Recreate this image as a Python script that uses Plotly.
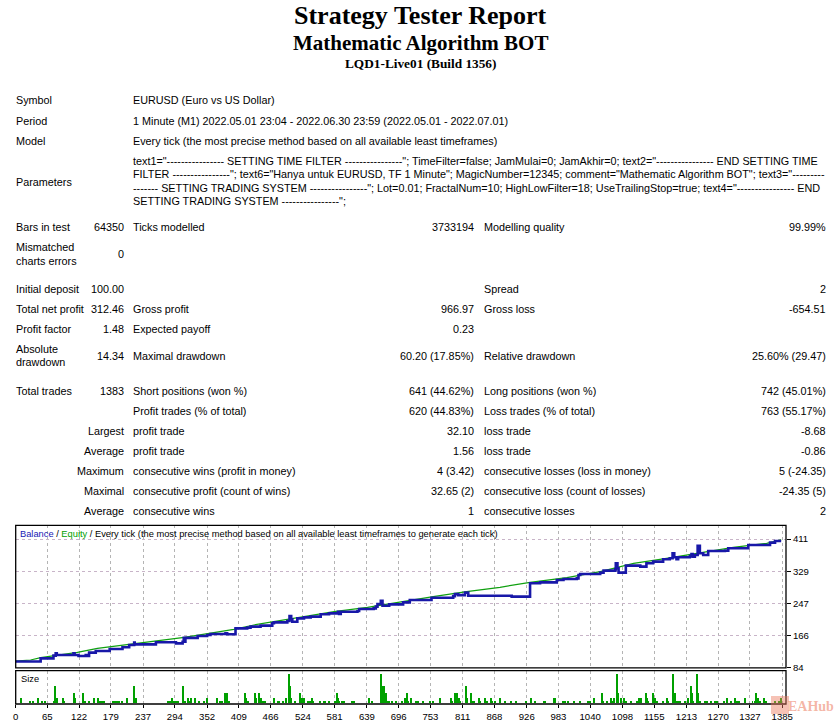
import plotly.graph_objects as go

# ---------------- DATA ----------------
TITLE = "Strategy Tester Report"
SUBTITLE = "Mathematic Algorithm BOT"
SERVER = "LQD1-Live01 (Build 1356)"

INFO_LABELS = ["Symbol", "Period", "Model", "Parameters"]
INFO_VALUES = [
    "EURUSD (Euro vs US Dollar)",
    "1 Minute (M1) 2022.05.01 23:04 - 2022.06.30 23:59 (2022.05.01 - 2022.07.01)",
    "Every tick (the most precise method based on all available least timeframes)",
]
PARAM_LINES = [
    'text1="---------------- SETTING TIME FILTER ----------------"; TimeFilter=false; JamMulai=0; JamAkhir=0; text2="---------------- END SETTING TIME',
    'FILTER ----------------"; text6="Hanya untuk EURUSD, TF 1 Minute"; MagicNumber=12345; comment="Mathematic Algorithm BOT"; text3="---------',
    '------- SETTING TRADING SYSTEM ----------------"; Lot=0.01; FractalNum=10; HighLowFilter=18; UseTrailingStop=true; text4="---------------- END',
    'SETTING TRADING SYSTEM ----------------";',
]

# stats table: label1, value1, label2, value2, label3, value3
STATS = [
    ["Bars in test", "64350", "Ticks modelled", "3733194", "Modelling quality", "99.99%"],
    ["Mismatched<br>charts errors", "0", "", "", "", ""],
    ["Initial deposit", "100.00", "", "", "Spread", "2"],
    ["Total net profit", "312.46", "Gross profit", "966.97", "Gross loss", "-654.51"],
    ["Profit factor", "1.48", "Expected payoff", "0.23", "", ""],
    ["Absolute<br>drawdown", "14.34", "Maximal drawdown", "60.20 (17.85%)", "Relative drawdown", "25.60% (29.47)"],
    ["Total trades", "1383", "Short positions (won %)", "641 (44.62%)", "Long positions (won %)", "742 (45.01%)"],
    ["", "", "Profit trades (% of total)", "620 (44.83%)", "Loss trades (% of total)", "763 (55.17%)"],
    ["", "Largest", "profit trade", "32.10", "loss trade", "-8.68"],
    ["", "Average", "profit trade", "1.56", "loss trade", "-0.86"],
    ["", "Maximum", "consecutive wins (profit in money)", "4 (3.42)", "consecutive losses (loss in money)", "5 (-24.35)"],
    ["", "Maximal", "consecutive profit (count of wins)", "32.65 (2)", "consecutive loss (count of losses)", "-24.35 (5)"],
    ["", "Average", "consecutive wins", "1", "consecutive losses", "2"],
]

# balance curve (trade number, balance)
BAL_TRADE = [0, 52, 53, 75, 76, 79, 80, 82, 110, 112, 114, 119, 121, 133, 134, 138, 140, 152, 176, 177,
             200, 212, 220, 221, 222, 257, 260, 293, 296, 308, 310, 312, 313, 335, 352, 358, 385, 388, 401, 403,
             424, 430, 448, 469, 472, 496, 500, 503, 505, 508, 514, 526, 538, 556, 571, 587, 589, 592, 622, 625,
             651, 655, 658, 664, 667, 673, 679, 694, 704, 716, 752, 755, 794, 797, 803, 815, 821, 896, 899, 929,
             932, 950, 980, 992, 1016, 1019, 1022, 1058, 1064, 1085, 1086, 1089, 1091, 1103, 1104, 1127, 1130, 1141, 1153, 1171,
             1183, 1188, 1191, 1195, 1198, 1219, 1222, 1224, 1228, 1233, 1237, 1243, 1252, 1282, 1288, 1321, 1324, 1354, 1363, 1372, 1383]
BAL_VALUE = [100, 100, 108, 108, 115, 115, 121, 116.5, 116.5, 121, 116.5, 116.5, 114, 114, 116.5, 114, 122.5, 126.7, 126.7, 131.8,
             136, 142, 142, 148, 143.6, 143.6, 148.7, 148.7, 146, 150, 160, 150, 160, 164.8, 167.3, 170, 171.5, 169, 169, 184,
             186, 188.5, 191, 197, 199.4, 202.8, 215.5, 207, 201, 201, 209.6, 212, 214, 219.8, 222.3, 226.5, 221, 226.5, 228.2, 233.3,
             235, 239.2, 246, 254.4, 241.7, 241.7, 245, 245, 250, 256, 256, 262, 266, 271, 268.5, 274.8, 267, 267, 264.7, 264.7,
             298.5, 301, 307, 309.5, 311, 319.7, 322, 325.6, 330.7, 334, 349.3, 336.6, 325.6, 325.6, 343.4, 343.4, 340.8, 349.3, 353.5, 359.5,
             362, 374.7, 364.5, 359.5, 364.5, 367.9, 373, 366.2, 370.5, 394, 374.7, 370.5, 380.6, 381.4, 387.4, 387.4, 395.8, 395.8, 401.7, 406, 406]

# equity curve (trade number, equity)
EQ_TRADE = [0, 35, 53, 77, 119, 155, 203, 257, 311, 364, 400, 436, 472, 526, 580, 640, 664, 703, 758, 818,
            878, 932, 998, 1058, 1088, 1118, 1177, 1237, 1297, 1357, 1383]
EQ_VALUE = [100, 103.8, 109.8, 114.8, 123.3, 133.5, 141.9, 150.4, 161.4, 173.2, 181.7, 192.7, 201.1, 213.8, 226.5, 237.5, 243.4, 251.9, 264.7, 277.4,
            288.4, 301.1, 312.9, 328.2, 339.2, 349.3, 362, 376.4, 389.9, 400, 409]

# size bars (trade number, size)
SIZE_TRADE = [17, 33, 38, 48, 55, 61, 76, 79, 81, 92, 95, 112, 114, 128, 130, 133, 140, 148, 155, 157, 161, 164, 167, 183, 186, 190, 194, 199, 207, 221, 223,
              281, 284, 288, 290, 292, 296, 299, 308, 309, 311, 317, 319, 322, 329, 336, 345, 351, 370, 374, 378, 383, 388, 390, 419, 421, 424, 437, 439, 444, 446, 449, 451, 455, 471,
              479, 481, 487, 494, 499, 501, 503, 509, 518, 519, 521, 525, 532, 536, 539, 541, 554, 561, 563, 570, 582, 584, 586, 588, 593, 597, 611, 616, 642, 647,
              663, 665, 667, 669, 670, 672, 674, 678, 683, 690, 701, 706, 710, 712, 717, 726, 730, 739, 751, 758, 769, 789, 792, 796, 798, 801, 803, 805, 816, 818,
              825, 827, 830, 839, 841, 850, 854, 861, 864, 868, 877, 886, 897, 907, 924, 934, 940,
              956, 959, 974, 976, 977, 990, 994, 999, 1010, 1022, 1035, 1040, 1046, 1047, 1060, 1062, 1069, 1076, 1078, 1083, 1087, 1089, 1094, 1100, 1103, 1112, 1123, 1127, 1130,
              1139, 1141, 1144, 1153, 1155, 1159, 1171, 1177, 1179, 1188, 1189, 1191, 1193, 1197, 1200, 1209, 1215, 1220, 1222, 1224, 1232, 1234, 1236, 1245, 1249, 1256, 1263, 1267,
              1279, 1286, 1292, 1299, 1303, 1306, 1317, 1331, 1335, 1338, 1340, 1344, 1351, 1355, 1371, 1378, 1383]
SIZE_VALUE = [2, 1, 1, 2, 1, 1, 1, 7, 2, 2, 1, 4, 2, 4, 1, 1, 1, 2, 2, 1, 1, 1, 1, 1, 1, 1, 1, 1, 2, 7, 2,
              1, 1, 2, 1, 1, 1, 1, 7, 4, 1, 2, 1, 2, 2, 1, 1, 2, 2, 1, 1, 4, 4, 1, 4, 2, 1, 4, 2, 4, 2, 2, 1, 1, 2,
              1, 1, 1, 2, 12, 7, 2, 1, 1, 4, 2, 2, 1, 1, 2, 1, 1, 1, 1, 1, 1, 4, 2, 1, 1, 1, 1, 1, 2, 1,
              12, 7, 2, 1, 7, 4, 1, 1, 1, 1, 1, 2, 4, 1, 2, 1, 1, 1, 1, 1, 2, 2, 1, 4, 1, 4, 2, 1, 7, 2,
              4, 1, 1, 2, 1, 2, 1, 2, 1, 1, 2, 1, 1, 1, 1, 2, 1,
              1, 1, 2, 2, 1, 1, 1, 1, 1, 1, 1, 1, 2, 1, 4, 1, 1, 2, 1, 2, 12, 4, 2, 2, 1, 1, 1, 2, 2,
              4, 2, 1, 4, 2, 1, 1, 2, 1, 12, 7, 4, 1, 1, 1, 1, 2, 7, 4, 1, 12, 4, 1, 1, 1, 1, 1, 1,
              1, 2, 1, 2, 1, 1, 2, 1, 1, 4, 2, 1, 2, 1, 1, 1, 2]

X_TICK_LABELS = ["0", "65", "122", "179", "237", "294", "352", "409", "466", "524", "581", "639", "696", "753",
                 "811", "868", "926", "983", "1040", "1098", "1155", "1213", "1270", "1327", "1385"]
Y_TICKS = [84, 166, 247, 329, 411]
X_FIRST = 8.2   # left edge of trade axis
X_LAST = 1391.7

# ---------------- LAYOUT HELPERS ----------------
W, H = 839, 721
SANS = "Tahoma, 'Liberation Sans', Arial, sans-serif"
SERIF = "'Times New Roman', 'Liberation Serif', serif"


def fx(x):
    return x / W


def fy(y):
    return 1 - y / H


annotations = []


def txt(x, y, s, anchor="left", size=10.8, color="#000000", family=SANS):
    annotations.append(dict(
        x=fx(x), y=fy(y), xref="paper", yref="paper", text=s, showarrow=False,
        xanchor=anchor, yanchor="middle", align=anchor if anchor != "center" else "center",
        borderpad=0, font=dict(family=family, size=size, color=color)))


# titles
txt(420, 16, "<b>" + TITLE + "</b>", "center", 26, family=SERIF)
txt(420, 43.5, "<b>" + SUBTITLE + "</b>", "center", 21, family=SERIF)
txt(420, 64, "<b>" + SERVER + "</b>", "center", 13.3, family=SERIF)

# info rows
info_y = [100.5, 120.5, 140.5]
for lab, val, y in zip(INFO_LABELS[:3], INFO_VALUES, info_y):
    txt(15, y, lab)
    txt(131.5, y, val)
txt(15, 181.5, INFO_LABELS[3])
for line, y in zip(PARAM_LINES, [161, 174.3, 187.6, 200.9]):
    txt(131.5, y, line)

# stats grid
row_y = [227.3, 254, 289, 309.3, 329.3, 355.6, 391, 411, 431.3, 451.3, 471.3, 491.3, 511.3]
col_x = [(15, "left"), (124.5, "right"), (131.5, "left"), (475.5, "right"), (482.5, "left"), (827, "right")]
for row, y in zip(STATS, row_y):
    for cell, (x, anc) in zip(row, col_x):
        if not cell:
            continue
        parts = cell.split("<br>")
        if len(parts) == 1:
            txt(x, y, cell, anc)
        else:
            txt(x, y - 6.6, parts[0], anc)
            txt(x, y + 6.6, parts[1], anc)

# chart legend text
BAL_COLOR = "#1818A8"
EQ_COLOR = "#10A010"
txt(19, 533.5, "<span style='color:#1818B4'>Balance</span> / <span style='color:#00A000'>Equity</span> / "
    "Every tick (the most precise method based on all available least timeframes to generate each tick)",
    "left", 9.3)
txt(19.5, 679, "Size", "left", 9.3)

# watermark
annotations.append(dict(x=fx(835), y=fy(706), xref="paper", yref="paper", text="<b>EAHub</b>", showarrow=False,
                        xanchor="right", yanchor="middle", borderpad=0,
                        font=dict(family=SERIF, size=14, color="rgba(236,120,90,0.55)")))

# ---------------- FIGURE ----------------
fig = go.Figure()
fig.add_trace(go.Scatter(x=EQ_TRADE, y=EQ_VALUE, mode="lines", line=dict(color=EQ_COLOR, width=1.2),
                         xaxis="x", yaxis="y", showlegend=False, name="Equity"))
fig.add_trace(go.Scatter(x=BAL_TRADE, y=BAL_VALUE, mode="lines", line=dict(color=BAL_COLOR, width=2.6, shape="hv"),
                         xaxis="x", yaxis="y", showlegend=False, name="Balance"))
fig.add_trace(go.Bar(x=SIZE_TRADE, y=SIZE_VALUE, width=1.8, marker=dict(color="#00A000", line=dict(width=0)),
                     xaxis="x2", yaxis="y2", showlegend=False, name="Size"))

x_tickvals = [X_FIRST] + [int(t) for t in X_TICK_LABELS[1:]]

xl, xr = fx(15.7), fx(786)
main_top, main_bot = 525.3, 667.8
size_top, size_bot = 670.7, 704

fig.update_layout(
    width=W, height=H, autosize=False,
    margin=dict(l=0, r=0, t=0, b=0, autoexpand=False),
    paper_bgcolor="white", plot_bgcolor="white",
    bargap=0,
    xaxis=dict(domain=[xl, xr], range=[X_FIRST, X_LAST], anchor="y", tickvals=x_tickvals, automargin=False,
               showticklabels=False, ticks="", showgrid=True, gridcolor="#B4B4B4", griddash="3px,3px",
               gridwidth=1, zeroline=False, showline=False),
    yaxis=dict(domain=[fy(main_bot), fy(main_top)], range=[84, 84 + (main_bot - main_top) * 2.539],
               anchor="x", side="right", tickvals=Y_TICKS, ticks="outside", ticklen=4, tickcolor="#000",
               automargin=False,
               tickfont=dict(family=SANS, size=9.6, color="#000"), showgrid=True, gridcolor="#C8B4C8",
               griddash="3px,3px", zeroline=False, showline=False),
    xaxis2=dict(domain=[xl, xr], matches="x", anchor="y2", tickvals=x_tickvals, ticktext=X_TICK_LABELS,
                automargin=False,
                ticks="outside", ticklen=3, tickcolor="#000", tickfont=dict(family=SANS, size=9.6, color="#000"),
                showgrid=True, gridcolor="#B4B4B4", griddash="3px,3px", zeroline=False, showline=False),
    yaxis2=dict(domain=[fy(size_bot), fy(size_top)], range=[-0.5, 13.2], anchor="x2", automargin=False,
                showticklabels=False, ticks="", showgrid=False, zeroline=False, showline=False),
    annotations=annotations,
    shapes=[
        dict(type="rect", xref="paper", yref="paper", x0=xl, x1=xr, y0=fy(main_bot), y1=fy(main_top),
             line=dict(color="#000", width=1.3)),
        dict(type="rect", xref="paper", yref="paper", x0=xl, x1=xr, y0=fy(size_bot), y1=fy(size_top),
             line=dict(color="#000", width=1.3)),
        dict(type="rect", xref="paper", yref="paper", x0=fx(771), x1=fx(789), y0=fy(714), y1=fy(696),
             line=dict(width=0), fillcolor="rgba(236,120,90,0.45)"),
    ],
)

fig.write_html("out.html", config={"displayModeBar": False},
               post_script="document.body.style.margin='0px';document.body.style.overflow='hidden';")
